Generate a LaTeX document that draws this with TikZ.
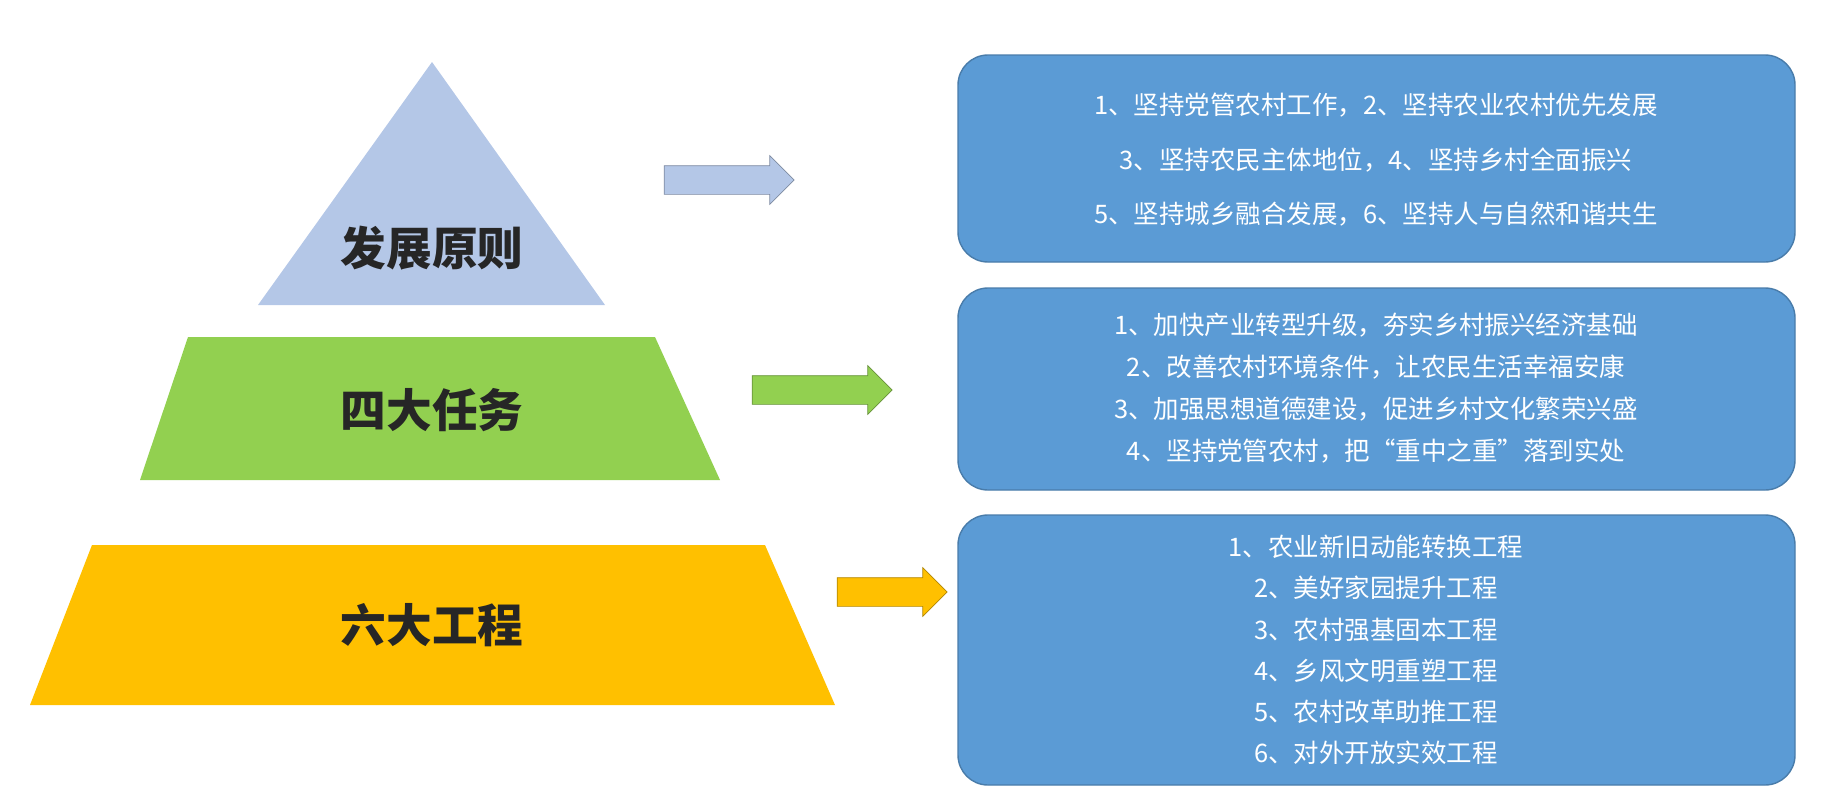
\documentclass[tikz,border=0pt]{standalone}
\usepackage{fontspec}
\newfontfamily\cjk{Noto Sans CJK SC}
\newfontfamily\cjkbold{Noto Sans CJK SC Medium}
\usetikzlibrary{shapes.arrows,positioning}
\definecolor{tierblue}{HTML}{B4C7E7}
\definecolor{tiergreen}{HTML}{92D050}
\definecolor{tiergold}{HTML}{FFC000}
\definecolor{boxblue}{HTML}{5B9BD5}
\tikzset{
  tierlabel/.style={font=\cjk\bfseries\fontsize{26}{30}\selectfont, text=black!85},
  infobox/.style={fill=boxblue, draw=boxblue!80!black, rounded corners=0.6cm, line width=0.8pt},
  boxtext/.style={font=\cjk\fontsize{14.5}{24}\selectfont, text=white, align=center},
  blockarrow/.style={single arrow, draw=#1!70!black, fill=#1, minimum height=2.6cm,
    inner xsep=0pt, inner ysep=0.28cm, single arrow head extend=0.2cm}
}
\begin{document}
\begin{tikzpicture}[x=0.02cm, y=-0.02cm]
\useasboundingbox (0,0) rectangle (1828,801);
% pyramid
\fill[tierblue] (432,62) -- (605,305) -- (258,305) -- cycle;
\fill[tiergreen] (188,337) -- (655,337) -- (720,480) -- (140,480) -- cycle;
\fill[tiergold] (92,545) -- (765,545) -- (835,705) -- (30,705) -- cycle;
\node[tierlabel] (yuanze) at (432,248) {发展原则};
\node[tierlabel] (renwu) at (432,410) {四大任务};
\node[tierlabel] (gongcheng) at (432,625) {六大工程};
% arrows
\node[blockarrow=tierblue] (arr1) at (722,180) {};
\node[blockarrow=tiergreen, minimum height=2.8cm] (arr2) at (815,390) {};
\node[blockarrow=tiergold, minimum height=2.2cm] (arr3) at (885,592) {};
% boxes
\draw[infobox] (958,55) rectangle (1795,262);
\draw[infobox] (958,288) rectangle (1795,490);
\draw[infobox] (958,515) rectangle (1795,785);
\node[boxtext, font=\cjk\fontsize{14.5}{31}\selectfont] (principles) at (1376,160)
  {1、坚持党管农村工作，2、坚持农业农村优先发展\\3、坚持农民主体地位，4、坚持乡村全面振兴\\5、坚持城乡融合发展，6、坚持人与自然和谐共生};
\node[boxtext] (tasks) at (1376,388)
  {1、加快产业转型升级，夯实乡村振兴经济基础\\2、改善农村环境条件，让农民生活幸福安康\\3、加强思想道德建设，促进乡村文化繁荣兴盛\\4、坚持党管农村，把“重中之重”落到实处};
\node[boxtext, font=\cjk\fontsize{14.5}{23.5}\selectfont] (projects) at (1376,650)
  {1、农业新旧动能转换工程\\2、美好家园提升工程\\3、农村强基固本工程\\4、乡风文明重塑工程\\5、农村改革助推工程\\6、对外开放实效工程};
\end{tikzpicture}
\end{document}
